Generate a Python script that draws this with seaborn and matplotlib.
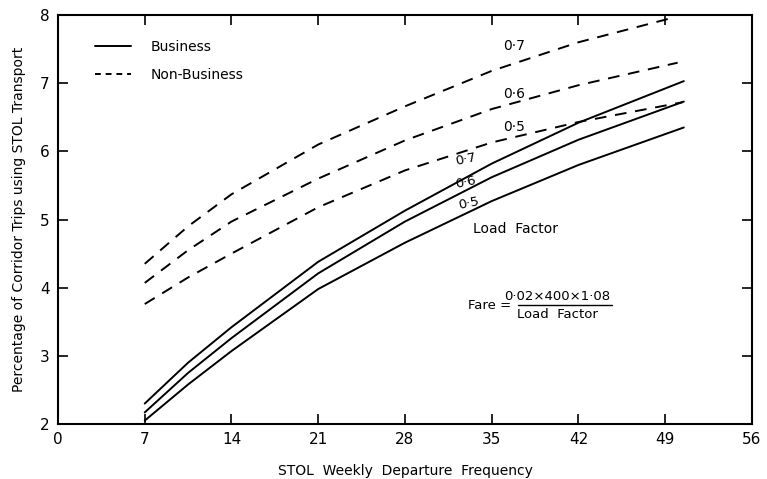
import matplotlib
matplotlib.use("Agg")
import matplotlib.pyplot as plt
import seaborn as sns
import pandas as pd
from matplotlib.lines import Line2D

sns.set_theme(style="white")
plt.rcParams['font.family'] = ['DejaVu Sans']
plt.rcParams['text.color'] = 'black'
plt.rcParams['axes.labelcolor'] = 'black'
plt.rcParams['xtick.color'] = 'black'
plt.rcParams['ytick.color'] = 'black'

# Business curves (solid), load factors 0.7 / 0.6 / 0.5
bus_x = [7, 10.5, 14, 21, 28, 35, 42, 50.5]
bus_07 = [2.30, 2.90, 3.42, 4.38, 5.13, 5.82, 6.42, 7.03]
bus_06 = [2.17, 2.75, 3.26, 4.21, 4.97, 5.62, 6.17, 6.73]
bus_05 = [2.05, 2.58, 3.07, 3.98, 4.66, 5.27, 5.80, 6.35]

# Non-business curves (dashed)
nb07_x = [7, 10.5, 14, 21, 28, 35, 42, 49.4]
nb_07 = [4.35, 4.90, 5.37, 6.10, 6.66, 7.18, 7.60, 7.95]
nb06_x = [7, 10.5, 14, 21, 28, 35, 42, 50]
nb_06 = [4.07, 4.55, 4.97, 5.60, 6.16, 6.62, 6.97, 7.30]
nb05_x = [7, 10.5, 14, 21, 28, 35, 42, 50.4]
nb_05 = [3.76, 4.15, 4.50, 5.18, 5.72, 6.13, 6.43, 6.72]

x_ticks = [0, 7, 14, 21, 28, 35, 42, 49, 56]
y_ticks = [2, 3, 4, 5, 6, 7, 8]

rows = []
for name, trip, xs, ys in [
    ("B0.7", "Business", bus_x, bus_07),
    ("B0.6", "Business", bus_x, bus_06),
    ("B0.5", "Business", bus_x, bus_05),
    ("N0.7", "Non-Business", nb07_x, nb_07),
    ("N0.6", "Non-Business", nb06_x, nb_06),
    ("N0.5", "Non-Business", nb05_x, nb_05),
]:
    for a, b in zip(xs, ys):
        rows.append({"freq": a, "pct": b, "series": name, "trip": trip})
df = pd.DataFrame(rows)

fig = plt.figure(figsize=(7.67, 4.79), dpi=100)
ax = fig.add_axes([0.0756, 0.1148, 0.9048, 0.8539])

for name, sub in df.groupby("series"):
    trip = sub["trip"].iloc[0]
    kw = dict(color="black", linewidth=1.4)
    sns.lineplot(data=sub, x="freq", y="pct", ax=ax, estimator=None,
                 sort=True, legend=False, **kw)
    if trip == "Non-Business":
        ax.lines[-1].set_dashes((6, 4.5))

ax.set_xlim(0, 56)
ax.set_ylim(2, 8)
ax.set_xticks(x_ticks)
ax.set_yticks(y_ticks)
ax.set_xticklabels([str(t) for t in x_ticks], fontsize=11)
ax.set_yticklabels([str(t) for t in y_ticks], fontsize=11)
ax.tick_params(direction="in", length=7, width=1.2, top=True, right=True,
               bottom=True, left=True, labeltop=False, labelright=False, pad=6)
for s in ax.spines.values():
    s.set_color("black")
    s.set_linewidth(1.5)

ax.set_xlabel("STOL  Weekly  Departure  Frequency", fontsize=10, labelpad=12)
ax.set_ylabel("Percentage of Corridor Trips using STOL Transport", fontsize=10, labelpad=10)

# legend
handles = [Line2D([0], [0], color="black", lw=1.4),
           Line2D([0], [0], color="black", lw=1.4, dashes=(3, 2.5))]
ax.legend(handles, ["Business", "Non-Business"], loc="upper left",
          frameon=False, fontsize=10, handlelength=2.6, handletextpad=1.4,
          labelspacing=1.0, bbox_to_anchor=(0.035, 0.97))

# curve labels
ax.text(36.8, 7.55, "0·7", fontsize=10, ha="center", va="center")
ax.text(36.8, 6.84, "0·6", fontsize=10, ha="center", va="center")
ax.text(36.8, 6.36, "0·5", fontsize=10, ha="center", va="center")
ax.text(32.9, 5.88, "0·7", fontsize=9.5, ha="center", va="center", rotation=12)
ax.text(32.9, 5.55, "0·6", fontsize=9.5, ha="center", va="center", rotation=12)
ax.text(33.1, 5.23, "0·5", fontsize=9.5, ha="center", va="center", rotation=12)
ax.text(36.9, 4.86, "Load  Factor", fontsize=10, ha="center", va="center")

# fare formula
ax.text(34.8, 3.74, "Fare =", fontsize=9.5, ha="center", va="center")
ax.text(40.3, 3.87, "0·02×400×1·08", fontsize=9.5, ha="center", va="center")
ax.plot([37.1, 44.7], [3.74, 3.74], color="black", lw=1.0)
ax.text(40.3, 3.60, "Load  Factor", fontsize=9.5, ha="center", va="center")

fig.savefig("out.png", dpi=100)
